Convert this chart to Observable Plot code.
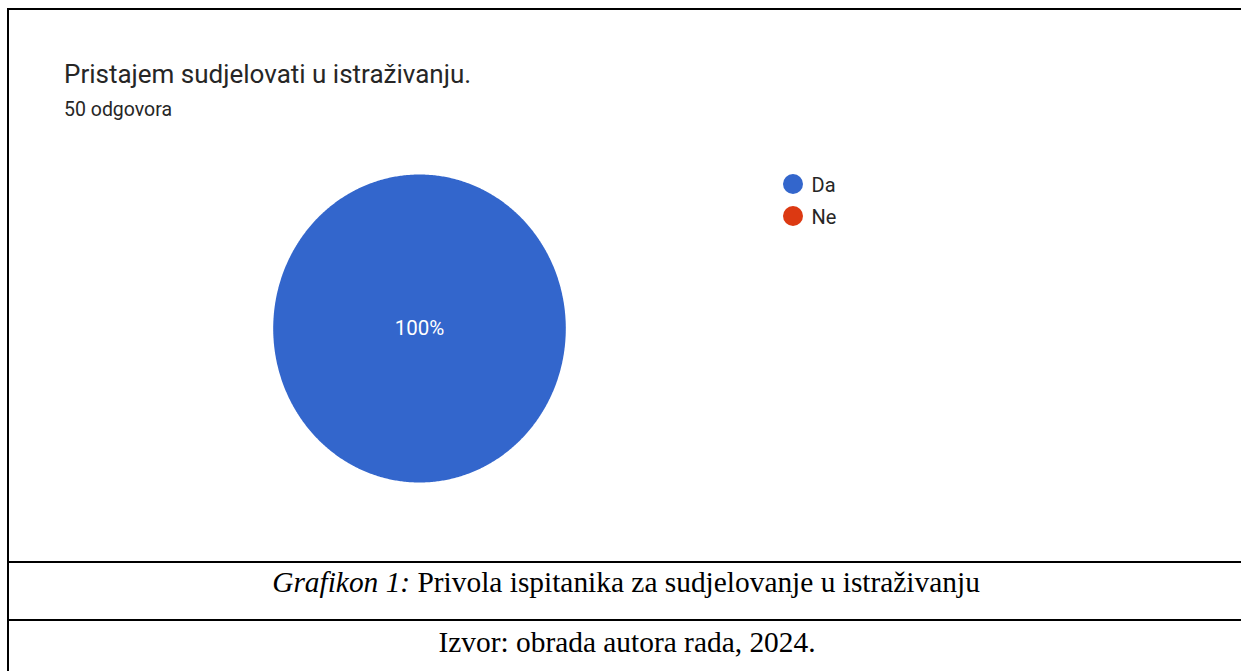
<!DOCTYPE html>
<html>
<head>
<meta charset="utf-8">
<script src="https://cdn.jsdelivr.net/npm/d3@7"></script>
<script src="https://cdn.jsdelivr.net/npm/@observablehq/plot@0.6"></script>
<style>
  html, body { margin: 0; padding: 0; background: #fff; }
  #root { position: relative; width: 1241px; height: 671px; overflow: hidden; background: #fff; }
  .abs { position: absolute; white-space: nowrap; }
  .rule { position: absolute; background: #000; }
  .title { font-family: Roboto, sans-serif; font-size: 26px; line-height: 26px; color: #262626; left: 64px; top: 61px; }
  .subtitle { font-family: Roboto, sans-serif; font-size: 19.5px; line-height: 20px; color: #262626; left: 64px; top: 100px; }
  .legend-dot { position: absolute; width: 20px; height: 20px; border-radius: 50%; }
  .legend-text { position: absolute; font-family: Roboto, sans-serif; font-size: 20px; line-height: 20px; color: #262626; white-space: nowrap; }
  .cap { font-family: "Liberation Serif", "Times New Roman", serif; font-size: 29.4px; line-height: 30px; color: #000; transform: translateX(-50%); }
  #chart { position: absolute; left: 0; top: 0; }
</style>
</head>
<body>
<div id="root"></div>
<script>
// ---- data ----
const title = "Pristajem sudjelovati u istraživanju.";
const subtitle = "50 odgovora";
const categories = ["Da", "Ne"];
const counts = [50, 0];
const colors = ["#3366cc", "#dc3912"];
const captionLabel = "Grafikon 1:";
const captionText = " Privola ispitanika za sudjelovanje u istraživanju";
const source = "Izvor: obrada autora rada, 2024.";

// ---- pie geometry (built from the data) ----
const total = d3.sum(counts);
const slicePoints = [];
const sliceLabels = [];
let acc = 0;
categories.forEach((cat, i) => {
  const v = counts[i];
  const a0 = (acc / total) * 2 * Math.PI;
  acc += v;
  const a1 = (acc / total) * 2 * Math.PI;
  if (v <= 0) return;
  const span = a1 - a0;
  const full = span >= 2 * Math.PI - 1e-9;
  const steps = Math.max(4, Math.ceil(span / (2 * Math.PI) * 720));
  if (!full) slicePoints.push({ key: cat, x: 0, y: 0 });
  for (let k = 0; k <= steps; k++) {
    const a = a0 + span * k / steps;
    slicePoints.push({ key: cat, x: Math.sin(a), y: Math.cos(a) });
  }
  const mid = (a0 + a1) / 2;
  const rr = full ? 0 : 0.6;
  sliceLabels.push({ key: cat, x: rr * Math.sin(mid), y: rr * Math.cos(mid), label: Math.round(v / total * 100) + "%" });
});

const W = 1241, H = 561;
const chart = Plot.plot({
  width: W,
  height: H,
  marginLeft: 272.7,
  marginRight: W - 565.3,
  marginTop: 174,
  marginBottom: H - 482,
  x: { domain: [-1, 1], axis: null },
  y: { domain: [-1, 1], axis: null },
  color: { domain: categories, range: colors },
  style: { background: "transparent", fontFamily: "Roboto, sans-serif" },
  marks: [
    Plot.line(slicePoints, { x: "x", y: "y", z: "key", fill: "key", stroke: "none", curve: "linear" }),
    Plot.text(sliceLabels, { x: "x", y: "y", text: "label", fill: "white", fontSize: 20.5, fontFamily: "Roboto, sans-serif" })
  ]
});
chart.id = "chart";

const root = document.getElementById("root");
root.appendChild(chart);

function addDiv(cls, css, text) {
  const d = document.createElement("div");
  d.className = cls;
  Object.assign(d.style, css);
  if (text != null) d.textContent = text;
  root.appendChild(d);
  return d;
}

// title & subtitle
addDiv("abs title", {}, title);
addDiv("abs subtitle", {}, subtitle);

// legend (colors from the plot's color scale)
const colorScale = chart.scale("color");
categories.forEach((cat, i) => {
  const cy = 184 + 32 * i;
  addDiv("legend-dot", { left: "782.7px", top: (cy - 10) + "px", background: colorScale.apply(cat) });
  addDiv("legend-text", { left: "811.5px", top: (cy - 9.5) + "px" }, cat);
});

// table rules
addDiv("rule", { left: "7px", top: "8px", width: "1234px", height: "2px" });
addDiv("rule", { left: "7px", top: "8px", width: "2px", height: "663px" });
addDiv("rule", { left: "7px", top: "561px", width: "1234px", height: "2px" });
addDiv("rule", { left: "7px", top: "619px", width: "1234px", height: "2px" });

// captions
const cap = addDiv("abs cap", { left: "626px", top: "567px" });
const em = document.createElement("i");
em.textContent = captionLabel;
cap.appendChild(em);
cap.appendChild(document.createTextNode(captionText));
addDiv("abs cap", { left: "627px", top: "626.5px" }, source);
</script>
</body>
</html>
